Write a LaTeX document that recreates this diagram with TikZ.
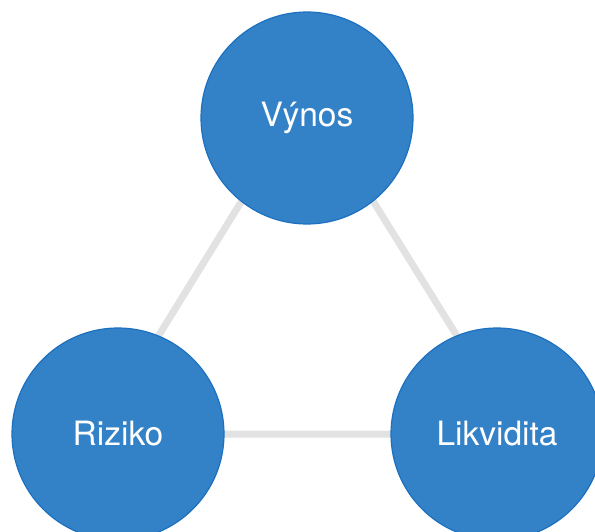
\documentclass[tikz,border=0pt]{standalone}
\usepackage{fontspec}
\setmainfont{TeX Gyre Heros}
\usetikzlibrary{arrows,backgrounds}

\definecolor{circblue}{RGB}{51,130,199}
\definecolor{circedge}{RGB}{28,112,192}
\definecolor{linkgray}{RGB}{226,226,226}

\begin{document}
\begin{tikzpicture}[x=1pt,y=-1pt,main node/.style={circle,fill=circblue,draw=circedge,line width=1.2pt,minimum size=212pt,inner sep=0pt,text=white,font=\fontsize{33.5}{40}\selectfont}]
  \useasboundingbox (0,0) rectangle (595,532);

  \node[main node] (1) at (307,118) {Výnos};
  \node[main node] (2) at (118,434) {Riziko};
  \node[main node] (3) at (497,434) {Likvidita};

  % links sit behind the circles
  \begin{pgfonlayer}{background}
  \draw[linkgray,line width=7pt]
  ([yshift=23pt]1.center) -- ([xshift=-20pt]2.center)
   -- ([xshift=21pt]3.center) -- cycle;
  \end{pgfonlayer}

\end{tikzpicture}
\end{document}
